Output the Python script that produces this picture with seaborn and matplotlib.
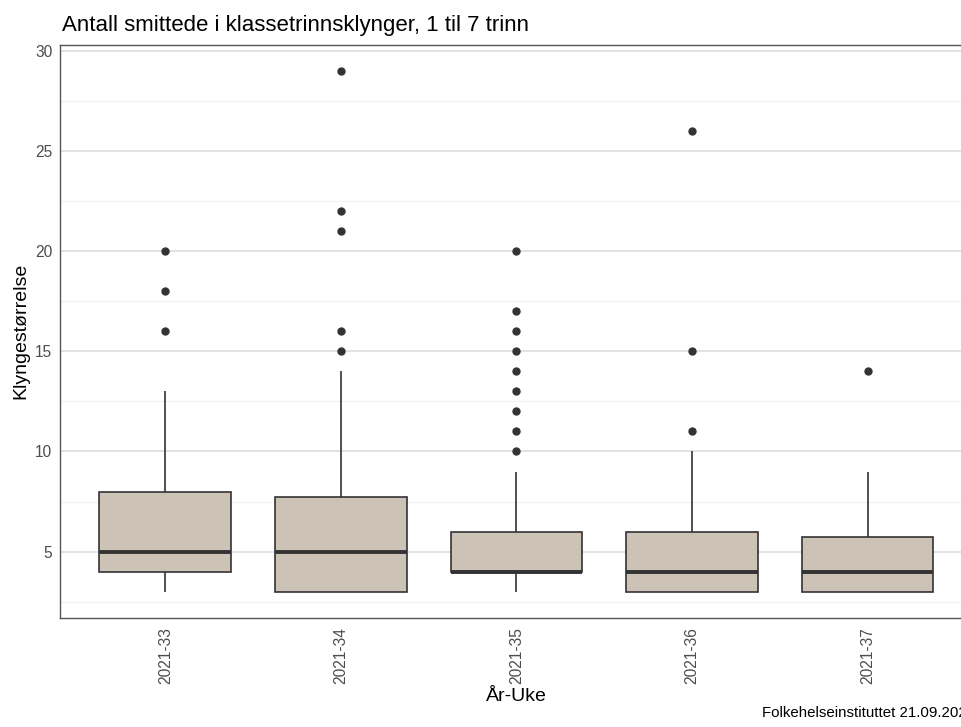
import matplotlib
matplotlib.use("Agg")
import matplotlib.pyplot as plt
import seaborn as sns
import pandas as pd
from matplotlib.ticker import MultipleLocator

# Cluster sizes per week (estimated from the reference boxplot)
weeks = ["2021-33", "2021-34", "2021-35", "2021-36", "2021-37"]
w33 = [3, 3, 3, 4, 4, 4, 5, 5, 5, 6, 7, 8, 8, 13, 16, 18, 20]
w34 = [3, 3, 3, 3, 3, 3, 3, 3, 4, 4, 4, 4, 5, 5, 6, 6, 7, 7, 7, 8,
       14, 15, 16, 21, 22, 29]
w35 = [3, 3, 3, 3, 3] + [4] * 18 + [5] * 4 + [6] * 4 + [9] + \
      [10, 11, 12, 13, 14, 15, 16, 17, 20]
w36 = [3, 3, 3, 3, 3, 4, 4, 4, 4, 5, 5, 6, 6, 10, 11, 15, 26]
w37 = [3, 3, 3, 3, 4, 4, 5, 6, 9, 14]
series = [w33, w34, w35, w36, w37]

title = "Antall smittede i klassetrinnsklynger, 1 til 7 trinn"
xlabel = "År-Uke"
ylabel = "Klyngestørrelse"
caption = "Folkehelseinstituttet 21.09.2021"

rows = [(wk, v) for wk, vals in zip(weeks, series) for v in vals]
df = pd.DataFrame(rows, columns=["uke", "storrelse"])

sns.set_theme(style="white")
plt.rcParams["font.family"] = ["Liberation Sans", "DejaVu Sans"]

fig = plt.figure(figsize=(9.61, 7.27), dpi=100)
ax = fig.add_axes([0.0624, 0.1503, 0.95, 0.788])

dark = "#333333"
sns.boxplot(data=df, x="uke", y="storrelse", order=weeks, ax=ax,
            color="#CDC2B6", saturation=1, width=0.75, linecolor=dark,
            linewidth=1.2, showcaps=False, whis=1.5,
            medianprops=dict(color=dark, linewidth=2.8),
            flierprops=dict(marker="o", markerfacecolor=dark,
                            markeredgecolor=dark, markersize=5))

ax.set_ylim(1.7, 30.3)
ax.set_xlim(-0.6, 4.6)
ax.yaxis.set_major_locator(MultipleLocator(5))
ax.yaxis.set_minor_locator(MultipleLocator(2.5))
ax.set_yticks([5, 10, 15, 20, 25, 30])
ax.grid(False)
ax.grid(axis="y", which="major", color="#DADADA", linewidth=1.1)
ax.grid(axis="y", which="minor", color="#F0F0F0", linewidth=0.8)
ax.set_axisbelow(True)

for s in ax.spines.values():
    s.set_color("#555555")
    s.set_linewidth(1.0)

ax.tick_params(axis="both", which="major", direction="out", length=3.5,
               width=0.8, color="#333333", labelcolor="#4D4D4D",
               labelsize=11.2)
ax.tick_params(axis="both", which="minor", length=0)
ax.tick_params(axis="x", pad=3)
ax.tick_params(axis="y", pad=2)
plt.setp(ax.get_xticklabels(), rotation=90, ha="center", va="top")

ax.set_xlabel(xlabel, fontsize=14, color="black", labelpad=3)
ax.set_ylabel(ylabel, fontsize=14, color="black", labelpad=4)

fig.text(62 / 961, 1 - 31 / 727, title, fontsize=16, color="black",
         ha="left", va="baseline")
fig.text(762 / 961, 1 - 717 / 727, caption, fontsize=10.8, color="black",
         ha="left", va="baseline")

fig.savefig("out.png", dpi=100)
